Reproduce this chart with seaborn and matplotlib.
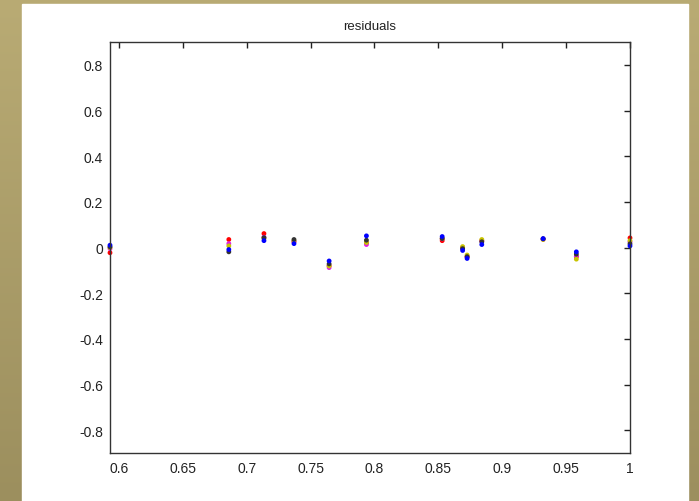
import numpy as np
import pandas as pd
import seaborn as sns
import matplotlib
matplotlib.use("Agg")
import matplotlib.pyplot as plt

# x positions of the residuals
x_vals = [0.593, 0.686, 0.7135, 0.737, 0.7645, 0.7937, 0.853, 0.869, 0.8725, 0.884, 0.932, 0.958, 1.0]

# residuals per run
res_red     = [-0.023, 0.035, 0.061, 0.025, -0.080, 0.020, 0.030, 0.000, -0.040, 0.030, 0.037, -0.040, 0.042]
res_magenta = [-0.005, 0.017, 0.045, 0.028, -0.088, 0.013, 0.038, -0.003, -0.042, 0.028, 0.036, -0.039, 0.025]
res_yellow  = [0.000, 0.007, 0.040, 0.030, -0.081, 0.022, 0.040, 0.004, -0.033, 0.035, 0.035, -0.051, 0.030]
res_black   = [0.003, -0.019, 0.043, 0.035, -0.072, 0.032, 0.039, -0.005, -0.040, 0.025, 0.038, -0.029, 0.016]
res_blue    = [0.010, -0.009, 0.030, 0.017, -0.059, 0.051, 0.048, -0.013, -0.048, 0.013, 0.039, -0.019, 0.007]

x_ticks = [0.6, 0.65, 0.7, 0.75, 0.8, 0.85, 0.9, 0.95, 1.0]
x_labels = ["0.6", "0.65", "0.7", "0.75", "0.8", "0.85", "0.9", "0.95", "1"]
y_ticks = [-0.8, -0.6, -0.4, -0.2, 0, 0.2, 0.4, 0.6, 0.8]
y_labels = ["-0.8", "-0.6", "-0.4", "-0.2", "0", "0.2", "0.4", "0.6", "0.8"]

series = {"r": res_red, "m": res_magenta, "y": res_yellow, "k": res_black, "b": res_blue}
colors = {"r": "#ff0000", "m": "#e020e0", "y": "#c8c400", "k": "#333333", "b": "#0000ff"}

# long form, order decides which dots land on top (blue last)
df = pd.concat(
    [pd.DataFrame({"x": x_vals, "res": v, "run": k}) for k, v in series.items()],
    ignore_index=True,
)

sns.set_style("white")
plt.rcParams["font.family"] = ["Liberation Sans", "DejaVu Sans"]
plt.rcParams["axes.unicode_minus"] = False

fig = plt.figure(figsize=(6.99, 5.02), dpi=100)
fig.patch.set_facecolor("#a89b68")

# slide background + white panel
bg = fig.add_axes([0, 0, 1, 1], zorder=-2)
grad = np.linspace(0, 1, 256).reshape(-1, 1)
bg.imshow(grad, aspect="auto", cmap=matplotlib.colors.LinearSegmentedColormap.from_list(
    "slide", ["#b9ab74", "#9c8f5e"]), extent=[0, 1, 0, 1], origin="upper")
bg.add_patch(plt.Rectangle((22 / 699, 0), 666 / 699, 497 / 502, color="white"))
bg.set_xlim(0, 1)
bg.set_ylim(0, 1)
bg.axis("off")

ax = fig.add_axes([110 / 699, 48 / 502, 520 / 699, 411 / 502])
sns.scatterplot(data=df, x="x", y="res", hue="run", palette=colors,
                s=12, linewidth=0, legend=False, ax=ax, clip_on=False)

ax.set_xlim(0.593, 1.0)
ax.set_ylim(-0.9, 0.9)
ax.set_xticks(x_ticks)
ax.set_xticklabels(x_labels)
ax.set_yticks(y_ticks)
ax.set_yticklabels(y_labels)
ax.tick_params(direction="in", length=4, width=1, top=True, right=True,
               labelsize=10, colors="#222222", pad=6)
ax.tick_params(axis="y", pad=5)
for sp in ax.spines.values():
    sp.set_color("#333333")
    sp.set_linewidth(1)
ax.set_xlabel("")
ax.set_ylabel("")
ax.set_title("residuals", fontsize=9.5, color="#222222", pad=9)

fig.savefig("out.png", dpi=100)
